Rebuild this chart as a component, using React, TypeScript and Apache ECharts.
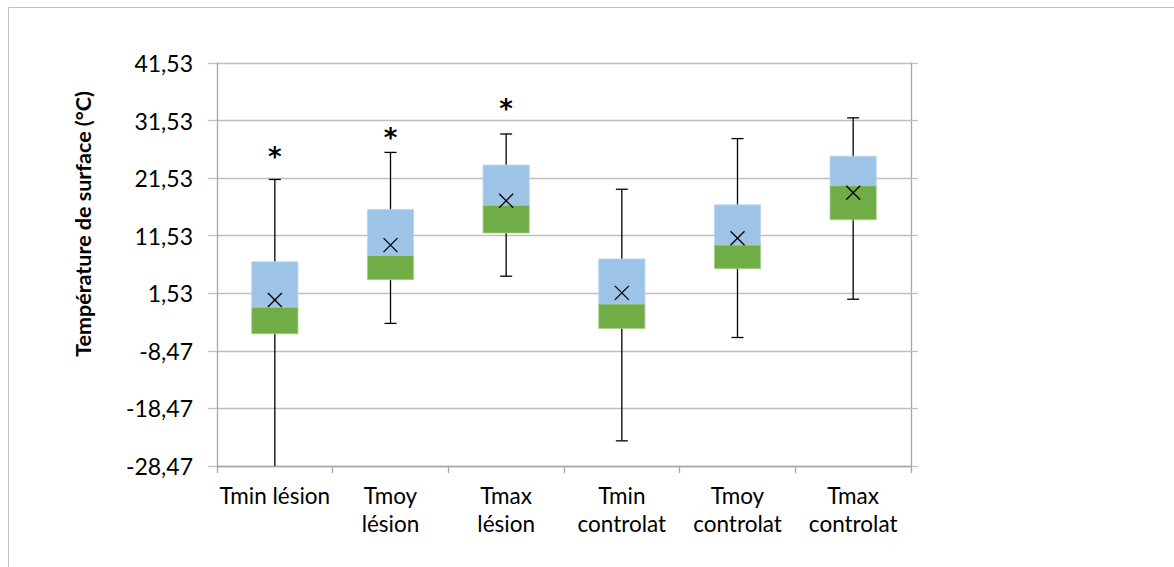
import React, { useEffect, useRef } from "react";
import * as echarts from "echarts";

const categories = [
  "Tmin lésion",
  "Tmoy\nlésion",
  "Tmax\nlésion",
  "Tmin\ncontrolat",
  "Tmoy\ncontrolat",
  "Tmax\ncontrolat",
];
const whiskerMin = [-31, -3.7, 4.5, -24.1, -6.15, 0.5];
const q1 = [-5.5, 3.9, 12.0, -4.6, 5.8, 14.3];
const median = [-0.9, 8.1, 16.8, -0.35, 9.9, 20.2];
const q3 = [7.0, 16.1, 23.8, 7.5, 16.9, 25.35];
const whiskerMax = [21.3, 26.0, 29.2, 19.6, 28.4, 32.0];
const means = [0.35, 9.9, 17.6, 1.6, 11.1, 19.0];
const starValues = [25.9, 29.2, 34.3, null, null, null];
const starMarks = ["*", "*", "*", "", "", ""];
const yTickLabels = ["-28,47", "-18,47", "-8,47", "1,53", "11,53", "21,53", "31,53", "41,53"];
const AXIS_BASE = -28.47;
const yTitle = "Température de surface (°C)";

const FONT = "Lato, 'Noto Sans', sans-serif";

export default function App() {
  const ref = useRef<HTMLDivElement>(null);
  useEffect(() => {
    if (!ref.current) return;
    const chart = echarts.init(ref.current, undefined, { renderer: "svg" });
    const off = (v: number) => v - AXIS_BASE;
    const data = categories.map((_, i) => [
      i,
      off(whiskerMin[i]),
      off(q1[i]),
      off(median[i]),
      off(q3[i]),
      off(whiskerMax[i]),
      off(means[i]),
      starValues[i] == null ? NaN : off(starValues[i] as number),
    ]);
    const axisColor = "#A6A6A6";
    const gridColor = "#BFBFBF";
    chart.setOption({
      animation: false,
      backgroundColor: "#fff",
      grid: { left: 217, right: 263, top: 63, bottom: 101 },
      graphic: [
        {
          type: "rect",
          shape: { x: 8.5, y: 7.5, width: 1300, height: 700 },
          style: { fill: "none", stroke: "#BFBFBF", lineWidth: 1 },
          silent: true,
        },
        {
          type: "text",
          x: 83,
          y: 224,
          rotation: Math.PI / 2,
          style: {
            text: yTitle,
            fill: "#000",
            font: `bold 21.5px ${FONT}`,
            align: "center",
            verticalAlign: "middle",
          },
        },
      ],
      xAxis: {
        type: "category",
        data: categories,
        boundaryGap: true,
        axisLine: { lineStyle: { color: axisColor, width: 1.3 } },
        axisTick: { show: true, length: 7, lineStyle: { color: axisColor, width: 1.3 } },
        axisLabel: {
          color: "#000",
          fontFamily: FONT,
          fontSize: 22.5,
          lineHeight: 28,
          margin: 15,
          interval: 0,
        },
        splitLine: { show: false },
      },
      yAxis: [
        {
          type: "value",
          min: 0,
          max: 70,
          interval: 10,
          axisLine: { show: true, lineStyle: { color: axisColor, width: 1.3 } },
          axisTick: { show: true, length: 9, lineStyle: { color: gridColor, width: 1.3 } },
          axisLabel: {
            color: "#000",
            fontFamily: FONT,
            fontSize: 23,
            margin: 24,
            formatter: (v: number) => yTickLabels[Math.round(v / 10)],
          },
          splitLine: { show: true, lineStyle: { color: gridColor, width: 1.3 } },
        },
        {
          type: "value",
          position: "right",
          min: 0,
          max: 70,
          interval: 10,
          axisLine: { show: true, lineStyle: { color: axisColor, width: 1.3 } },
          axisTick: { show: true, length: 7, lineStyle: { color: gridColor, width: 1.3 } },
          axisLabel: { show: false },
          splitLine: { show: false },
        },
      ],
      series: [
        {
          type: "custom",
          clip: true,
          data,
          encode: { x: 0, y: [1, 2, 3, 4, 5, 6] },
          renderItem: (params: any, api: any) => {
            const i = api.value(0);
            const x = api.coord([i, api.value(3)])[0];
            const yMin = api.coord([i, api.value(1)])[1];
            const yQ1 = api.coord([i, api.value(2)])[1];
            const yMed = api.coord([i, api.value(3)])[1];
            const yQ3 = api.coord([i, api.value(4)])[1];
            const yMax = api.coord([i, api.value(5)])[1];
            const yMean = api.coord([i, api.value(6)])[1];
            const bw = api.size([1, 0])[0] * 0.4;
            const cap = 6;
            const m = 7;
            const lineStyle = { stroke: "#000", lineWidth: 1.3 };
            const children: any[] = [
              { type: "line", shape: { x1: x, y1: yMax, x2: x, y2: yMin }, style: lineStyle },
              { type: "line", shape: { x1: x - cap, y1: yMax, x2: x + cap, y2: yMax }, style: lineStyle },
              { type: "line", shape: { x1: x - cap, y1: yMin, x2: x + cap, y2: yMin }, style: lineStyle },
              {
                type: "rect",
                shape: { x: x - bw / 2, y: yQ3, width: bw, height: yMed - yQ3 },
                style: { fill: "#9DC3E6", stroke: "#BDD7EE", lineWidth: 0.8 },
              },
              {
                type: "rect",
                shape: { x: x - bw / 2, y: yMed, width: bw, height: yQ1 - yMed },
                style: { fill: "#70AD47", stroke: "#A9D18E", lineWidth: 0.8 },
              },
              { type: "line", shape: { x1: x - m, y1: yMean - m, x2: x + m, y2: yMean + m }, style: lineStyle },
              { type: "line", shape: { x1: x - m, y1: yMean + m, x2: x + m, y2: yMean - m }, style: lineStyle },
            ];
            const sv = api.value(7);
            if (starMarks[i] && !isNaN(sv)) {
              const ys = api.coord([i, sv])[1];
              children.push({
                type: "text",
                x,
                y: ys + 4,
                style: {
                  text: starMarks[i],
                  fill: "#000",
                  font: `bold 26px 'DejaVu Sans', sans-serif`,
                  align: "center",
                  verticalAlign: "middle",
                },
              });
            }
            return { type: "group", children };
          },
        },
      ],
    });
    return () => chart.dispose();
  }, []);
  return (
    <div
      ref={ref}
      style={{ position: "absolute", left: 0, top: 0, width: 1174, height: 567 }}
    />
  );
}
